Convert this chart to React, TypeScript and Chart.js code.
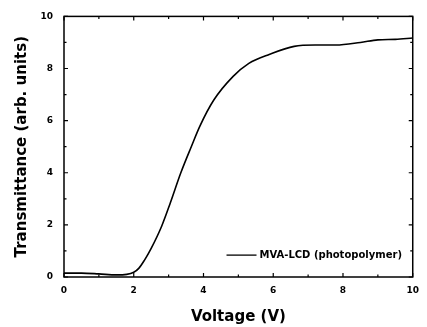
import React, { useEffect, useRef } from "react";
import { Chart, registerables } from "chart.js";

Chart.register(...registerables);

const voltage = [0, 0.5, 1, 1.5, 1.8, 2, 2.15, 2.3, 2.5, 2.8, 3.05, 3.35, 3.65, 3.9, 4.3, 4.85, 5.3, 5.9, 6.6, 7.2, 7.8, 8.5, 9, 9.5, 10];
const transmittance = [0.15, 0.15, 0.12, 0.08, 0.1, 0.18, 0.34, 0.63, 1.1, 1.95, 2.85, 4.0, 5.0, 5.8, 6.8, 7.7, 8.2, 8.55, 8.85, 8.9, 8.9, 9.0, 9.1, 9.12, 9.17];
const seriesLabel = "MVA-LCD (photopolymer)";
const xTitle = "Voltage (V)";
const yTitle = "Transmittance (arb. units)";

const FONT = "'DejaVu Sans', 'Liberation Sans', Arial, sans-serif";

const framePlugin = {
  id: "frame",
  afterDatasetsDraw(chart: any) {
    const { ctx, chartArea: a, scales } = chart;
    const xs = scales.x;
    const ys = scales.y;
    ctx.save();
    ctx.strokeStyle = "#000";
    ctx.lineWidth = 1.5;
    ctx.strokeRect(a.left, a.top, a.right - a.left, a.bottom - a.top);
    ctx.lineWidth = 1.2;
    for (let v = 0; v <= 10; v += 1) {
      const len = v % 2 === 0 ? 4 : 2.5;
      const px = xs.getPixelForValue(v);
      ctx.beginPath();
      ctx.moveTo(px, a.bottom);
      ctx.lineTo(px, a.bottom - len);
      ctx.moveTo(px, a.top);
      ctx.lineTo(px, a.top + len);
      const py = ys.getPixelForValue(v);
      ctx.moveTo(a.left, py);
      ctx.lineTo(a.left + len, py);
      ctx.moveTo(a.right, py);
      ctx.lineTo(a.right - len, py);
      ctx.stroke();
    }
    // legend
    const ly = ys.getPixelForValue(0.84);
    const lx = xs.getPixelForValue(4.66);
    ctx.lineWidth = 1.3;
    ctx.beginPath();
    ctx.moveTo(lx, ly);
    ctx.lineTo(lx + 30, ly);
    ctx.stroke();
    ctx.fillStyle = "#000";
    ctx.font = `bold 10px ${FONT}`;
    ctx.textBaseline = "middle";
    ctx.textAlign = "left";
    ctx.fillText(seriesLabel, lx + 33, ly);
    ctx.restore();
  },
};

export default function App() {
  const ref = useRef<HTMLCanvasElement>(null);
  useEffect(() => {
    const data = voltage.map((v, i) => ({ x: v, y: transmittance[i] }));
    const chart = new Chart(ref.current as HTMLCanvasElement, {
      type: "line",
      data: {
        datasets: [
          {
            label: seriesLabel,
            data,
            borderColor: "#000",
            borderWidth: 1.6,
            pointRadius: 0,
            cubicInterpolationMode: "monotone",
            fill: false,
          },
        ],
      },
      options: {
        responsive: false,
        animation: false,
        layout: { padding: { left: 0, right: 7, top: 15, bottom: 0 } },
        plugins: { legend: { display: false }, tooltip: { enabled: false } },
        scales: {
          x: {
            type: "linear",
            min: 0,
            max: 10,
            ticks: { stepSize: 2, color: "#000", font: { family: FONT, size: 9, weight: "bold" }, padding: 8 },
            grid: { drawOnChartArea: false, drawTicks: false },
            border: { display: false },
            title: { display: true, text: xTitle, color: "#000", font: { family: FONT, size: 15, weight: "bold" }, padding: { top: 1, bottom: 1 } },
            afterFit(s: any) { s.height = 50; },
          },
          y: {
            min: 0,
            max: 10,
            ticks: { stepSize: 2, color: "#000", font: { family: FONT, size: 9, weight: "bold" }, padding: 11 },
            grid: { drawOnChartArea: false, drawTicks: false },
            border: { display: false },
            title: { display: true, text: yTitle, color: "#000", font: { family: FONT, size: 15, weight: "bold" }, padding: { top: 13, bottom: 13 } },
            afterFit(s: any) { s.width = 64; },
          },
        },
      },
      plugins: [framePlugin],
    } as any);
    return () => chart.destroy();
  }, []);
  return (
    <div style={{ position: "absolute", left: 0, top: 0, width: 427, height: 327, background: "#fff" }}>
      <canvas ref={ref} width={427} height={327} />
    </div>
  );
}
